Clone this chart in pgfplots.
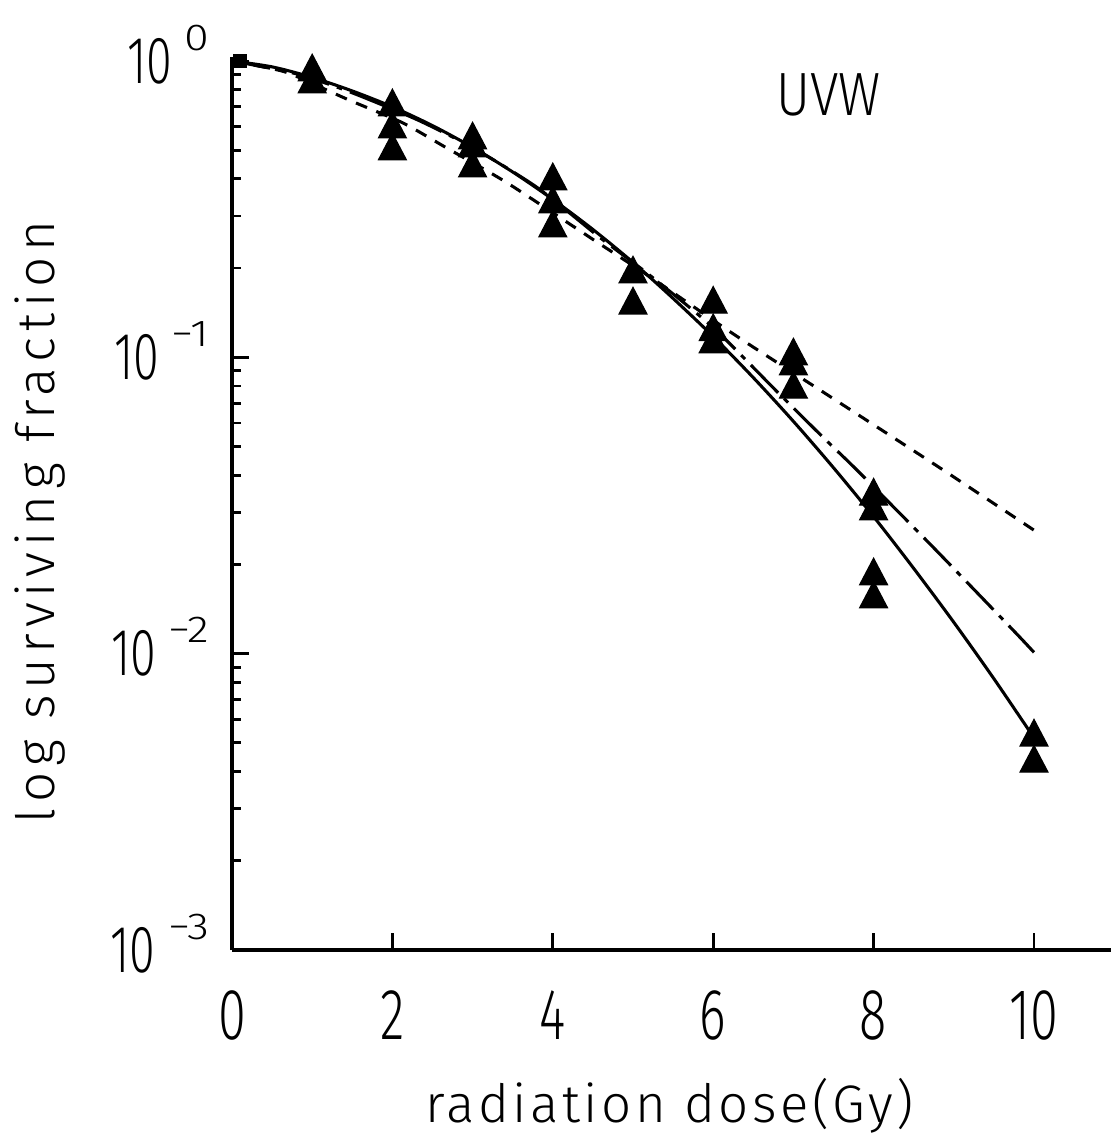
\documentclass[border=0pt]{standalone}
\usepackage{fontspec}
\usepackage{pgfplots}
\pgfplotsset{compat=1.18}
\setmainfont{Fira Sans Light}
\newfontfamily\tickfont[FakeStretch=0.7]{Fira Sans Light}
\newfontfamily\uvwfont[FakeStretch=0.85]{Fira Sans Light}
\newfontfamily\supfont[FakeStretch=1.2]{Fira Sans Light}
\newfontfamily\labfontx[LetterSpace=6.6]{Fira Sans Light}
\newfontfamily\labfonty[LetterSpace=11]{Fira Sans Light}
\newcommand\ytl[1]{{\fontsize{24}{24}\selectfont\tickfont 10}\hspace{4.5pt}\smash{\raisebox{11.9pt}{\fontsize{13.5}{13.5}\selectfont\supfont #1}}}

\pgfplotstableread{
x y
1 0.918
1 0.836
2 0.70
2 0.589
2 0.497
3 0.541
3 0.509
3 0.435
4 0.394
4 0.329
4 0.273
5 0.191
5 0.150
6 0.151
6 0.122
6 0.111
7 0.101
7 0.0935
7 0.078
8 0.0340
8 0.0303
8 0.0183
8 0.0153
10 0.00523
10 0.00427
}\pts

\begin{document}
\begin{tikzpicture}
\begin{axis}[
  name=ax,
  scale only axis,
  width=316.44pt, height=321.48pt,
  xmin=0, xmax=10.96,
  ymode=log, ymin=1e-3, ymax=1.031,
  axis x line*=bottom, axis y line*=left,
  axis line style={line width=1.2pt},
  tick style={line width=1pt, black},
  tick align=inside,
  major tick length=6.2pt, minor tick length=3.2pt,
  xtick={0,2,4,6,8,10},
  xticklabels={0,2,4,6,8,10},
  xticklabel style={font=\fontsize{26}{26}\selectfont\tickfont, anchor=north, inner sep=0pt, yshift=-14.4pt},
  ytick={0.001,0.01,0.1,1},
  yticklabels={{\ytl{−3}},{\ytl{−2}},{\ytl{−1}},{\ytl{0}}},
  yticklabel style={anchor=east, inner sep=0pt, xshift=-7.9pt},
  minor ytick={0.002,0.003,0.004,0.005,0.006,0.007,0.008,0.009,0.02,0.03,0.04,0.05,0.06,0.07,0.08,0.09,0.2,0.3,0.4,0.5,0.6,0.7,0.8,0.9},
  clip=false,
]
% solid curve
\addplot[black, line width=1.1pt, smooth, tension=0.5] coordinates {
(0,1.0) (0.5,0.955) (1,0.88) (1.5,0.792) (2,0.700) (2.5,0.605) (3,0.511) (3.5,0.422) (4,0.341) (4.5,0.270) (5,0.209) (5.5,0.158) (6,0.1175) (6.5,0.0854) (7,0.0608) (7.5,0.0424) (8,0.0290) (8.5,0.0194) (9,0.01276) (9.5,0.00823) (10,0.0052)
};
% long dash - dot curve
\addplot[black, line width=1.1pt, smooth, tension=0.4, dash pattern=on 14pt off 3pt on 2pt off 3pt] coordinates {
(0,1.0) (0.8,0.905) (1.45,0.79) (2.3,0.635) (3.0,0.51) (3.8,0.375) (4.6,0.252) (5.2,0.19) (6.0,0.126) (6.8,0.0764) (7.37,0.0537) (7.79,0.0417) (8.74,0.0229) (9.74,0.0120) (10,0.0101)
};
% short dash curve
\addplot[black, line width=1.1pt, smooth, tension=0.4, dash pattern=on 4.3pt off 3.6pt] coordinates {
(0,1.0) (0.51,0.94) (0.75,0.90) (1.45,0.74) (2.13,0.618) (2.68,0.508) (3.43,0.388) (4.5,0.25) (5.21,0.187) (6.33,0.116) (7.33,0.0776) (8.83,0.0423) (10,0.0261)
};
% data
\addplot[only marks, mark=triangle*, mark size=5.8pt, mark options={fill=black, draw=black, yscale=1.1}] table[x=x,y=y] {\pts};
\addplot[only marks, mark=square*, mark size=2.4pt, mark options={fill=black}] coordinates {(0.1,1.0)};
\node[anchor=base, font=\fontsize{19}{19}\selectfont\labfontx] at (rel axis cs:0.498,-0.1926) {radiation dose(Gy)};
\node[anchor=base, rotate=90, font=\fontsize{19}{19}\selectfont\labfonty] at (rel axis cs:-0.2014,0.479) {log surviving fraction};
\node[anchor=base, font=\fontsize{22}{22}\selectfont\uvwfont] at (rel axis cs:0.679,0.935) {UVW};
\end{axis}
\pgfresetboundingbox
\path[use as bounding box] ([shift={(-83.52pt,-66.24pt)}]ax.south west) rectangle ([shift={(0pt,20.52pt)}]ax.north east);
\end{tikzpicture}
\end{document}
